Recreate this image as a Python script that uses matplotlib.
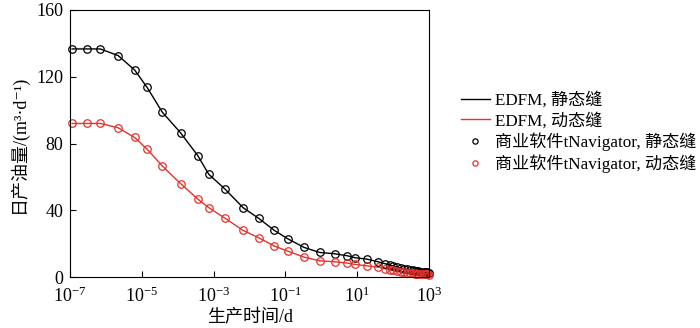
import matplotlib
matplotlib.use("Agg")
import matplotlib.pyplot as plt
from matplotlib.ticker import FixedLocator, LogFormatterSciNotation

plt.rcParams["font.family"] = ["Liberation Serif", "Noto Sans CJK SC", "DejaVu Sans"]
plt.rcParams["mathtext.fontset"] = "custom"
plt.rcParams["mathtext.rm"] = "Liberation Serif"
plt.rcParams["mathtext.it"] = "Liberation Serif:italic"

# production time (d) and daily oil rate (m3/d)
time_d = [1.15e-7, 3e-7, 7e-7, 2.2e-6, 6.3e-6, 1.4e-5, 3.7e-5, 1.2e-4, 3.6e-4,
          7.3e-4, 2.1e-3, 6.6e-3, 1.8e-2, 4.9e-2, 0.115, 0.33, 0.89, 2.37, 5.3,
          8.8, 18.4, 38, 60, 80, 100, 130, 160, 200, 250, 300, 350, 400, 450,
          500, 600, 700, 800, 900, 1000]
rate_static = [136.6, 136.6, 136.6, 132.6, 124.0, 113.6, 98.8, 86.4, 72.8, 61.6,
               52.6, 41.6, 35.2, 28.0, 23.0, 17.8, 14.8, 14.0, 12.8, 11.6, 10.8,
               9.2, 8.0, 7.3, 6.7, 6.0, 5.5, 5.0, 4.6, 4.3, 4.0, 3.8, 3.6, 3.4,
               3.2, 3.0, 2.9, 2.8, 2.7]
rate_dynamic = [92.0, 92.0, 92.0, 89.4, 83.6, 76.6, 66.6, 56.0, 46.8, 41.6,
                35.2, 28.0, 23.6, 18.6, 15.6, 12.0, 9.8, 9.2, 8.4, 7.6, 6.8,
                6.0, 5.0, 4.4, 4.0, 3.5, 3.2, 2.9, 2.6, 2.4, 2.2, 2.1, 2.0, 1.9,
                1.8, 1.7, 1.6, 1.6, 1.5]

BLACK = "#000000"
RED = "#e8312b"

fig = plt.figure(figsize=(7.0, 3.28), dpi=100)
ax = fig.add_axes([0.1, 0.155, 0.513, 0.815])

ax.plot(time_d, rate_static, color=BLACK, lw=1.0, label="EDFM, 静态缝")
ax.plot(time_d, rate_dynamic, color=RED, lw=1.0, label="EDFM, 动态缝")
ax.plot(time_d, rate_static, ls="none", marker="o", ms=5.4, mfc="none",
        mec=BLACK, mew=0.9, clip_on=False, label="商业软件tNavigator, 静态缝")
ax.plot(time_d, rate_dynamic, ls="none", marker="o", ms=5.4, mfc="none",
        mec=RED, mew=0.9, clip_on=False, label="商业软件tNavigator, 动态缝")

ax.set_xscale("log")
ax.set_xlim(1e-7, 1e3)
ax.set_ylim(0, 160)
ax.xaxis.set_major_locator(FixedLocator([1e-7, 1e-5, 1e-3, 1e-1, 1e1, 1e3]))
ax.xaxis.set_major_formatter(LogFormatterSciNotation())
ax.xaxis.set_minor_locator(FixedLocator([]))
ax.set_yticks([0, 40, 80, 120, 160])
ax.tick_params(direction="in", length=4, width=0.8, labelsize=13)
ax.tick_params(axis="x", pad=7)
ax.tick_params(axis="y", pad=5)
for s in ax.spines.values():
    s.set_linewidth(0.8)

ax.set_xlabel("生产时间/d", fontsize=13, labelpad=2)
ax.set_ylabel("日产油量/(m³·d⁻¹)", fontsize=13, labelpad=6)

handles, labels = ax.get_legend_handles_labels()
leg = fig.legend(handles, labels, loc="center left", bbox_to_anchor=(0.636, 0.595),
                 frameon=False, fontsize=12.3, handlelength=1.7, handletextpad=0.3,
                 labelspacing=0.2, markerscale=0.7)

fig.savefig("out.png", dpi=100)
